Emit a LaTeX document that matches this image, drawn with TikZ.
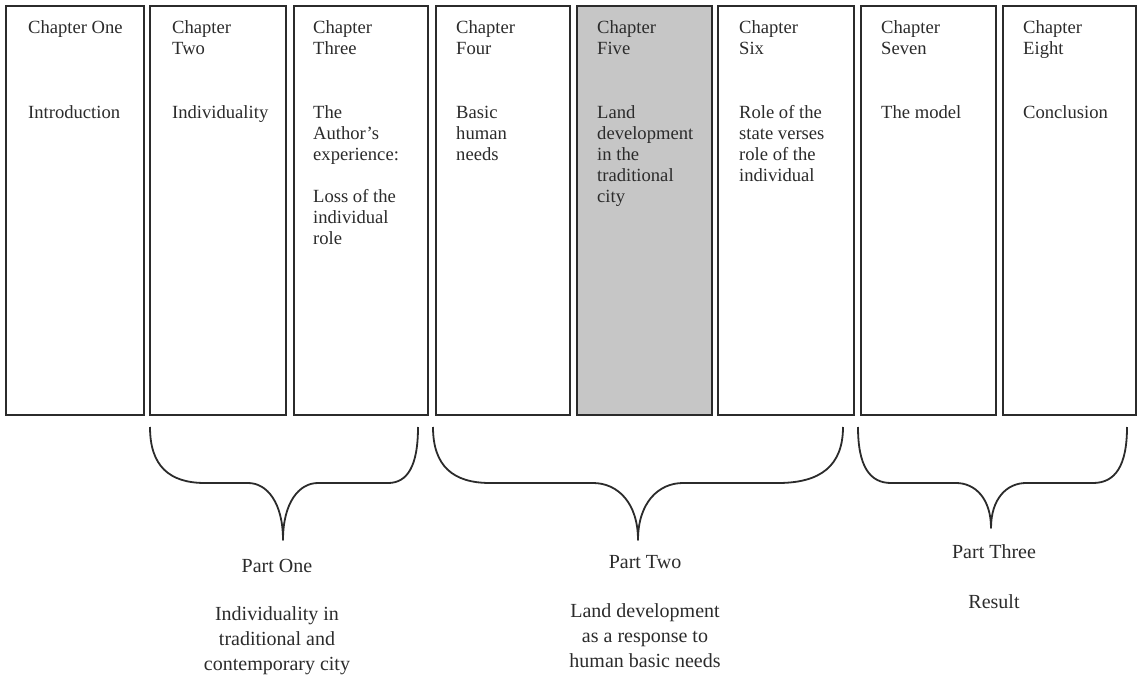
\documentclass[tikz,border=0pt]{standalone}
\usepackage{fontspec}
\setmainfont{Liberation Serif}
\definecolor{ink}{HTML}{2B2B2B}
\definecolor{shade}{HTML}{C6C6C6}
% multi-line text whose baseline is the first line's baseline
\newcommand\chapstack[1]{\begin{tabular}[t]{@{}l@{}}#1\end{tabular}}
\newcommand\partstack[1]{\begin{tabular}[t]{@{}c@{}}#1\end{tabular}}
% curly brace: left x, right x, tip x, tip y, left corner width, right corner width, tip half width
\newcommand\partbrace[7]{%
  \draw[brace] (#1,427) .. controls (#1,466) and ({#1+0.35*#5},483) .. ({#1+#5},483)
    -- ({#3-#7},483) .. controls ({#3-0.45*#7},483) and (#3,{483+0.35*(#4-483)}) .. (#3,#4)
    .. controls (#3,{483+0.35*(#4-483)}) and ({#3+0.45*#7},483) .. ({#3+#7},483)
    -- ({#2-#6},483) .. controls ({#2-0.35*#6},483) and (#2,466) .. (#2,427);}
\tikzset{
  chapbox/.style={draw=ink, line width=2pt, fill=white, anchor=north west,
    minimum height=409pt, inner sep=0pt, outer sep=0pt},
  chaptext/.style={anchor=base west, inner sep=0pt, text=ink,
    font=\fontsize{18.6}{21}\selectfont},
  parttext/.style={anchor=base, inner sep=0pt, text=ink,
    font=\fontsize{20}{25}\selectfont},
  brace/.style={draw=ink, line width=1.8pt, line join=round}
}
\begin{document}
\begin{tikzpicture}[x=1pt,y=-1pt]
\useasboundingbox (0,0) rectangle (1139,676);

% chapter columns
\node[chapbox, minimum width=138pt] (c1) at (6,6) {};
\node[chapbox, minimum width=136pt] (c2) at (150,6) {};
\node[chapbox, minimum width=134pt] (c3) at (294,6) {};
\node[chapbox, minimum width=134pt] (c4) at (436,6) {};
\node[chapbox, minimum width=135pt, fill=shade] (c5) at (577,6) {};
\node[chapbox, minimum width=136pt] (c6) at (718,6) {};
\node[chapbox, minimum width=135pt] (c7) at (861,6) {};
\node[chapbox, minimum width=133pt] (c8) at (1003,6) {};

% chapter headings
\node[chaptext] (h1) at (28,34) {Chapter One};
\node[chaptext] (h2) at (172,34) {\chapstack{Chapter\\Two}};
\node[chaptext] (h3) at (313,34) {\chapstack{Chapter\\Three}};
\node[chaptext] (h4) at (456,34) {\chapstack{Chapter\\Four}};
\node[chaptext] (h5) at (597,34) {\chapstack{Chapter\\Five}};
\node[chaptext] (h6) at (739,34) {\chapstack{Chapter\\Six}};
\node[chaptext] (h7) at (881,34) {\chapstack{Chapter\\Seven}};
\node[chaptext] (h8) at (1023,34) {\chapstack{Chapter\\Eight}};

% chapter topics
\node[chaptext] (t1) at (28,119) {Introduction};
\node[chaptext] (t2) at (172,119) {Individuality};
\node[chaptext] (t3) at (313,119) {\chapstack{The\\Author's\\experience:\\[21pt]Loss of the\\individual\\role}};
\node[chaptext] (t4) at (456,119) {\chapstack{Basic\\human\\needs}};
\node[chaptext] (t5) at (597,119) {\chapstack{Land\\development\\in the\\traditional\\city}};
\node[chaptext] (t6) at (739,119) {\chapstack{Role of the\\state verses\\role of the\\individual}};
\node[chaptext] (t7) at (881,119) {The model};
\node[chaptext] (t8) at (1023,119) {Conclusion};

% braces grouping the chapters into parts
\partbrace{150}{418}{283}{540}{55}{30}{35}
\partbrace{433}{843}{638}{540}{57}{65}{45}
\partbrace{858}{1127}{991}{528}{33}{34}{35}

% part labels
\node[parttext] (p1) at (277,572) {Part One};
\node[parttext] (d1) at (277,620) {\partstack{Individuality in\\traditional and\\contemporary city}};
\node[parttext] (p2) at (645,568) {Part Two};
\node[parttext] (d2) at (645,617) {\partstack{Land development\\as a response to\\human basic needs}};
\node[parttext] (p3) at (994,558) {Part Three};
\node[parttext] (d3) at (994,608) {Result};
\end{tikzpicture}
\end{document}
